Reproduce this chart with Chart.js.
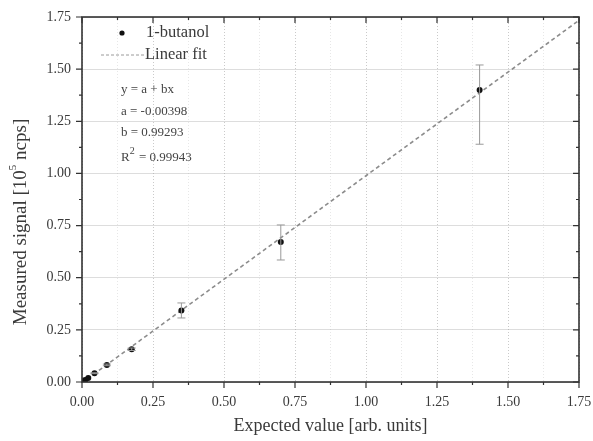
<!DOCTYPE html>
<html>
<head>
<meta charset="utf-8">
<script src="https://cdn.jsdelivr.net/npm/chart.js@4/dist/chart.umd.min.js"></script>
<style>
html,body{margin:0;padding:0;background:#fff;}
#wrap{width:593px;height:441px;position:relative;}
</style>
</head>
<body>
<div id="wrap"><canvas id="c" width="593" height="441"></canvas></div>
<script>
// ---- data ----
const expectedX = [0.0055, 0.011, 0.022, 0.044, 0.0875, 0.175, 0.35, 0.70, 1.40];
const measuredY = [0.004, 0.009, 0.019, 0.042, 0.082, 0.157, 0.343, 0.671, 1.40];
const errHigh   = [0, 0, 0, 0.002, 0.004, 0.006, 0.036, 0.082, 0.12];
const errLow    = [0, 0, 0, 0.002, 0.004, 0.006, 0.036, 0.086, 0.26];
const fitX = [0, 1.75];
const fitY = [-0.004, 1.734];
const fitText = ["y = a + bx", "a = -0.00398", "b = 0.99293", "R|2| = 0.99943"];
const seriesLabels = ["1-butanol", "Linear fit"];
const axisMin = 0, axisMax = 1.75, majorStep = 0.25, minorStep = 0.125;

const SERIF = '"Liberation Serif","DejaVu Serif",serif';
const TXT = '#3a3a3a';

const isMajor = v => Math.abs(v / majorStep - Math.round(v / majorStep)) < 1e-6;

const errorBars = {
  id: 'errorBars',
  afterDatasetsDraw(chart) {
    const {ctx, scales:{x, y}} = chart;
    ctx.save();
    ctx.strokeStyle = '#999';
    ctx.lineWidth = 1;
    for (let i = 0; i < expectedX.length; i++) {
      if (errHigh[i] <= 0 && errLow[i] <= 0) continue;
      const px = x.getPixelForValue(expectedX[i]);
      const top = y.getPixelForValue(measuredY[i] + errHigh[i]);
      const bot = y.getPixelForValue(measuredY[i] - errLow[i]);
      ctx.beginPath();
      ctx.moveTo(px, top); ctx.lineTo(px, bot);
      ctx.moveTo(px - 4, top); ctx.lineTo(px + 4, top);
      ctx.moveTo(px - 4, bot); ctx.lineTo(px + 4, bot);
      ctx.stroke();
    }
    ctx.restore();
  }
};

const frame = {
  id: 'frame',
  afterDraw(chart) {
    const {ctx, chartArea:a, scales:{x, y}} = chart;
    ctx.save();
    ctx.strokeStyle = '#333';
    ctx.lineWidth = 1.6;
    ctx.strokeRect(a.left, a.top, a.right - a.left, a.bottom - a.top);
    ctx.lineWidth = 1.2;
    ctx.beginPath();
    x.ticks.forEach(t => {
      const px = x.getPixelForValue(t.value);
      const L = isMajor(t.value) ? 6 : 3;
      ctx.moveTo(px, a.bottom); ctx.lineTo(px, a.bottom + L);
      ctx.moveTo(px, a.top); ctx.lineTo(px, a.top + L);
    });
    y.ticks.forEach(t => {
      const py = y.getPixelForValue(t.value);
      const L = isMajor(t.value) ? 6 : 3;
      ctx.moveTo(a.left, py); ctx.lineTo(a.left - L, py);
      ctx.moveTo(a.right, py); ctx.lineTo(a.right - L, py);
    });
    ctx.stroke();

    // legend
    const lx = a.left, ly = a.top;
    ctx.fillStyle = '#111';
    ctx.beginPath();
    ctx.arc(lx + 40, ly + 16, 2.6, 0, Math.PI * 2);
    ctx.fill();
    ctx.strokeStyle = '#9a9a9a';
    ctx.lineWidth = 1;
    ctx.setLineDash([3, 2]);
    ctx.beginPath();
    ctx.moveTo(lx + 19, ly + 38); ctx.lineTo(lx + 62, ly + 38);
    ctx.stroke();
    ctx.setLineDash([]);
    ctx.fillStyle = TXT;
    ctx.font = '16.5px ' + SERIF;
    ctx.textBaseline = 'middle';
    ctx.textAlign = 'left';
    ctx.fillText(seriesLabels[0], lx + 64, ly + 16);
    ctx.fillText(seriesLabels[1], lx + 63, ly + 38);

    // fit annotation
    ctx.fillStyle = '#444';
    const ys = [ly + 73, ly + 95, ly + 116, ly + 141];
    fitText.forEach((s, i) => {
      const parts = s.split('|');
      let cx = lx + 39;
      ctx.font = '13px ' + SERIF;
      ctx.fillText(parts[0], cx, ys[i]);
      cx += ctx.measureText(parts[0]).width;
      if (parts.length > 1) {
        ctx.font = '10px ' + SERIF;
        ctx.fillText(parts[1], cx, ys[i] - 7);
        cx += ctx.measureText(parts[1]).width + 1;
        ctx.font = '13px ' + SERIF;
        ctx.fillText(parts[2], cx, ys[i]);
      }
    });

    // y-axis title with superscript
    ctx.save();
    ctx.translate(21, 222);
    ctx.rotate(-Math.PI / 2);
    ctx.textBaseline = 'middle';
    const p1 = 'Measured signal [10', p2 = '5', p3 = ' ncps]';
    ctx.font = '19px ' + SERIF;
    const w1 = ctx.measureText(p1).width, w3 = ctx.measureText(p3).width;
    ctx.font = '11px ' + SERIF;
    const w2 = ctx.measureText(p2).width;
    let sx = -(w1 + w2 + w3) / 2;
    ctx.fillStyle = TXT;
    ctx.textAlign = 'left';
    ctx.font = '19px ' + SERIF;
    ctx.fillText(p1, sx, 0); sx += w1;
    ctx.font = '11px ' + SERIF;
    ctx.fillText(p2, sx, -8); sx += w2;
    ctx.font = '19px ' + SERIF;
    ctx.fillText(p3, sx, 0);
    ctx.restore();
    ctx.restore();
  }
};

const fmt = v => isMajor(v) ? v.toFixed(2) : '';

new Chart(document.getElementById('c'), {
  type: 'scatter',
  data: {
    datasets: [
      {
        label: seriesLabels[1],
        type: 'line',
        data: fitX.map((v, i) => ({x: v, y: fitY[i]})),
        borderColor: '#8c8c8c',
        borderWidth: 1.6,
        borderDash: [4, 3],
        pointRadius: 0,
        fill: false,
        order: 2
      },
      {
        label: seriesLabels[0],
        data: expectedX.map((v, i) => ({x: v, y: measuredY[i]})),
        backgroundColor: '#111',
        borderColor: '#111',
        borderWidth: 0,
        pointRadius: 3,
        pointHoverRadius: 3,
        order: 1
      }
    ]
  },
  plugins: [errorBars, frame],
  options: {
    responsive: false,
    animation: false,
    events: [],
    layout: {padding: {top: 17, right: 14, left: 0, bottom: 0}},
    plugins: {legend: {display: false}, tooltip: {enabled: false}},
    scales: {
      x: {
        type: 'linear', min: axisMin, max: axisMax,
        afterFit(s) { s.height = 59; s.paddingRight = 0; s.paddingLeft = 0; },
        ticks: {stepSize: minorStep, autoSkip: false, maxRotation: 0, padding: 8,
                callback: fmt, color: TXT, font: {family: SERIF, size: 14}},
        grid: {drawTicks: true, tickLength: 4, tickColor: 'rgba(0,0,0,0)',
               color: c => isMajor(c.tick.value) ? 'rgba(150,150,150,0.5)' : 'rgba(170,170,170,0.28)',
               lineWidth: 1},
        border: {display: false, dash: [1, 2]},
        title: {display: true, text: 'Expected value [arb. units]', color: TXT,
                font: {family: SERIF, size: 18}, padding: {top: 0}}
      },
      y: {
        type: 'linear', min: axisMin, max: axisMax,
        afterFit(s) { s.width = 82; s.paddingTop = 0; s.paddingBottom = 0; },
        ticks: {stepSize: minorStep, autoSkip: false, padding: 7,
                callback: fmt, color: TXT, font: {family: SERIF, size: 14}},
        grid: {drawTicks: true, tickLength: 4, tickColor: 'rgba(0,0,0,0)',
               color: c => isMajor(c.tick.value) ? 'rgba(170,170,170,0.4)' : 'rgba(0,0,0,0)',
               lineWidth: 1},
        border: {display: false}
      }
    }
  }
});
</script>
</body>
</html>
